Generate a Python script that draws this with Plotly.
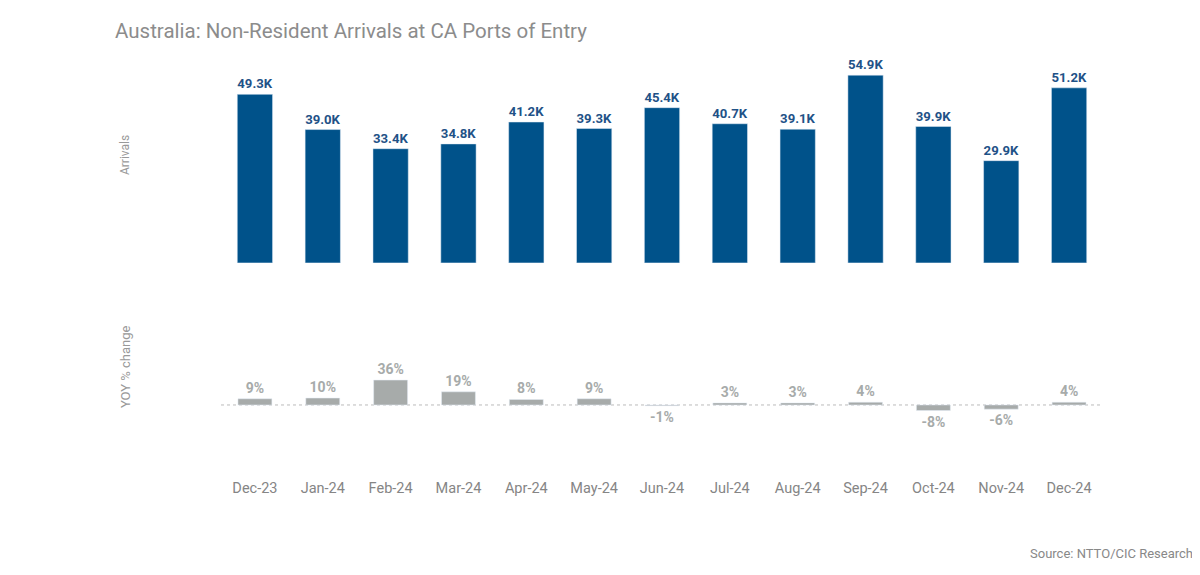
import plotly.graph_objects as go
from plotly.subplots import make_subplots

months = ["Dec-23", "Jan-24", "Feb-24", "Mar-24", "Apr-24", "May-24", "Jun-24",
          "Jul-24", "Aug-24", "Sep-24", "Oct-24", "Nov-24", "Dec-24"]
arrivals = [49300, 39000, 33400, 34800, 41200, 39300, 45400,
            40700, 39100, 54900, 39900, 29900, 51200]
yoy_pct = [9, 10, 36, 19, 8, 9, -1, 3, 3, 4, -8, -6, 4]

BLUE = "#00528a"
GREY_BAR = "#a7abaa"
FONT = "Roboto"

fig = make_subplots(rows=2, cols=1, shared_xaxes=True, vertical_spacing=0.09,
                    row_heights=[0.5, 0.41])

fig.add_trace(go.Bar(
    x=months, y=arrivals, marker_color=BLUE, width=0.52,
    text=[f"{v/1000:.1f}K" for v in arrivals], textposition="outside",
    textfont=dict(family=FONT, size=13.5, color="#1f5287", weight="bold"),
    cliponaxis=False, hoverinfo="skip"), row=1, col=1)

fig.add_trace(go.Bar(
    x=months, y=yoy_pct, marker_color=GREY_BAR, width=0.5,
    text=[f"{v}%" for v in yoy_pct], textposition="outside",
    textfont=dict(family=FONT, size=14, color="#a7abaa", weight="bold"),
    cliponaxis=False, hoverinfo="skip"), row=2, col=1)

fig.update_layout(
    width=1200, height=575, showlegend=False,
    paper_bgcolor="white", plot_bgcolor="white",
    margin=dict(l=213, r=105, t=47, b=113),
    bargap=0.48,
    font=dict(family=FONT, color="#777"),
    uniformtext=dict(mode=False),
)
fig.update_layout(
    yaxis=dict(range=[0, 60800], visible=False, domain=[0.499, 1]),
    yaxis2=dict(range=[-94, 152], visible=False, domain=[0, 0.41]),
    xaxis=dict(showticklabels=False, showgrid=False, showline=False, ticks=""),
    xaxis2=dict(showgrid=False, showline=False, ticks="",
                tickfont=dict(family=FONT, size=14.5, color="#858585"),
                ticklabelstandoff=7),
)

fig.add_shape(type="line", xref="x2 domain", yref="y2", x0=0, x1=1, y0=0, y1=0,
              line=dict(color="#bbbbbb", width=1, dash="dot"), layer="below")

fig.add_annotation(text="Australia: Non-Resident Arrivals at CA Ports of Entry",
                   xref="paper", yref="paper", x=-0.1224, y=1.0, xanchor="left",
                   yanchor="bottom", yshift=10, showarrow=False,
                   font=dict(family=FONT, size=20.5, color="#8c8c8c"))
fig.add_annotation(text="Arrivals", xref="paper", yref="paper", x=-0.1088, y=0.759,
                   xanchor="center", yanchor="middle", textangle=-90, showarrow=False,
                   font=dict(family=FONT, size=12, color="#999"))
fig.add_annotation(text="YOY % change", xref="paper", yref="paper", x=-0.1088, y=0.248,
                   xanchor="center", yanchor="middle", textangle=-90, showarrow=False,
                   font=dict(family=FONT, size=13, color="#999"))
fig.add_annotation(text="Source: NTTO/CIC Research", xref="paper", yref="paper",
                   x=1.1043, y=-0.2, xanchor="right", yanchor="middle", showarrow=False,
                   font=dict(family=FONT, size=13, color="#888"))

fig.write_html("out.html")
